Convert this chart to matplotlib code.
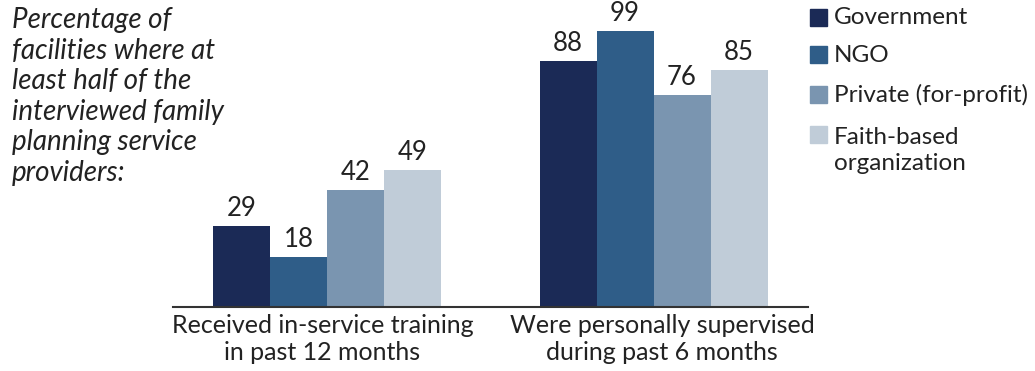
import matplotlib.pyplot as plt
import numpy as np

plt.rcParams['font.family'] = ['Lato', 'DejaVu Sans']

categories = ["Received in-service training\nin past 12 months",
              "Were personally supervised\nduring past 6 months"]
sectors = ["Government", "NGO", "Private (for-profit)", "Faith-based\norganization"]
values = {
    "Government": [29, 88],
    "NGO": [18, 99],
    "Private (for-profit)": [42, 76],
    "Faith-based\norganization": [49, 85],
}
colors = ["#1b2a56", "#2f5d88", "#7a95b0", "#c0ccd8"]
txt = "#222222"

fig = plt.figure(figsize=(10.35, 3.71), dpi=100)
ax = fig.add_axes([173 / 1035, 64 / 371, 635 / 1035, 307 / 371])

x = np.arange(len(categories))
w = 0.1746
for i, s in enumerate(sectors):
    pos = x + (i - 1.5) * w
    bars = ax.bar(pos, values[s], width=w, color=colors[i], linewidth=0)
    for b, v in zip(bars, values[s]):
        ax.text(b.get_x() + w / 2, v + 1.8, str(v), ha="center", va="bottom",
                fontsize=18.5, color=txt)

ax.set_xlim(-0.4717, 1.473)
ax.set_ylim(0, 110)
for sp in ["top", "right", "left"]:
    ax.spines[sp].set_visible(False)
ax.spines["bottom"].set_color("#333333")
ax.spines["bottom"].set_linewidth(1.5)
ax.set_yticks([])
ax.set_xticks(x + np.array([-0.014, 0.026]))
ax.set_xticklabels(categories, fontsize=18, color=txt, linespacing=1.2)
ax.tick_params(axis="x", length=0, pad=5)

fig.text(12 / 1035, 1 - 7 / 371,
         "Percentage of\nfacilities where at\nleast half of the\ninterviewed family\nplanning service\nproviders:",
         ha="left", va="top", fontsize=20, style="italic", color=txt, linespacing=1.22)

# legend drawn by hand
rows = [18, 55, 95, 135]
for c, s, yy in zip(colors, sectors, rows):
    fig.patches.append(plt.Rectangle((810 / 1035, 1 - (yy + 8) / 371), 17 / 1035, 17 / 371,
                                     transform=fig.transFigure, color=c))
    if "\n" in s:
        fig.text(834 / 1035, 1 - (yy - 8) / 371, s, ha="left", va="top",
                 fontsize=17.5, color=txt, linespacing=1.32)
    else:
        fig.text(834 / 1035, 1 - yy / 371, s, ha="left", va="center",
                 fontsize=17.5, color=txt)

fig.savefig("out.png", dpi=100)
